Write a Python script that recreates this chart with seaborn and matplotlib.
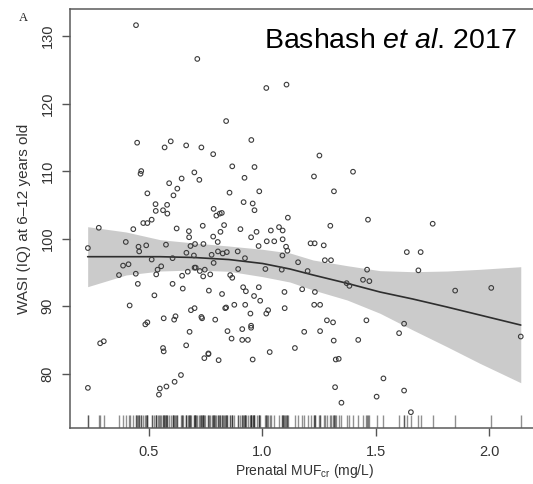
import numpy as np
import pandas as pd
import seaborn as sns
import matplotlib
matplotlib.use("Agg")
import matplotlib.pyplot as plt

# prenatal MUFcr (mg/L) and WASI IQ
muf = [0.444, 0.714, 1.018, 1.107, 0.841, 0.952, 0.449, 0.597, 0.570, 0.665,
       0.732, 0.784, 1.252, 0.868, 0.966, 1.400, 0.467, 0.464, 0.701, 0.723,
       0.922, 1.228, 0.590, 0.645, 0.626, 0.609, 0.494, 0.856, 0.987, 1.316,
       0.530, 0.581, 0.918, 0.958, 0.531, 0.563, 0.582, 0.786, 0.798, 0.813,
       0.822, 0.966, 1.113, 0.513, 0.476, 0.494, 0.432, 0.280, 0.623, 0.738,
       0.832, 0.677, 0.816, 0.904, 1.038, 1.074, 1.090, 0.975, 0.951, 0.678,
       0.784, 0.804, 1.020, 1.053, 1.090, 1.300, 1.466, 1.751, 0.399, 0.489,
       0.455, 0.458, 0.576, 0.704, 0.684, 0.741, 0.984, 1.105, 1.111, 1.231,
       1.213, 1.271, 1.637, 1.698, 0.666, 0.699, 0.777, 0.805, 0.826, 0.844,
       0.892, 0.786, 0.924, 1.089, 0.513, 0.387, 0.411, 0.555, 0.605, 1.158,
       1.276, 1.303, 0.539, 0.533, 0.702, 0.707, 0.725, 0.747, 0.740, 0.771,
       0.894, 1.014, 1.086, 1.200, 0.369, 0.443, 0.647, 0.859, 0.868, 1.688,
       1.462, 1.444, 1.472, 1.372, 1.384, 0.452, 0.605, 0.650, 0.916, 0.928,
       0.985, 1.176, 1.232, 1.098, 0.765, 1.850, 2.009, 0.525, 0.823, 0.964,
       0.991, 0.416, 0.877, 0.925, 0.841, 0.837, 0.702, 0.686, 1.099, 1.229,
       1.255, 0.948, 1.018, 1.026, 0.566, 0.618, 0.612, 0.732, 0.735, 0.793,
       0.485, 0.494, 1.285, 1.312, 1.459, 1.625, 0.951, 0.951, 0.912, 0.680,
       0.847, 1.185, 1.255, 1.603, 0.286, 0.302, 0.865, 0.912, 0.937, 1.315,
       1.423, 0.665, 1.144, 0.563, 0.566, 0.763, 0.763, 0.745, 0.808, 0.958,
       1.033, 1.324, 1.337, 0.642, 0.614, 0.578, 0.549, 0.545, 0.232, 0.232,
       1.321, 1.534, 1.625, 1.504, 1.349, 1.655, 2.139, 0.672]
iq = [131.6, 126.6, 122.3, 122.8, 117.4, 114.6, 114.2, 114.4, 113.5, 113.8,
      113.5, 112.5, 112.3, 110.7, 110.6, 109.9, 110.0, 109.6, 109.8, 108.7,
      109.0, 109.2, 108.2, 108.9, 107.4, 106.4, 106.7, 106.8, 107.0, 107.0,
      105.1, 105.0, 105.4, 105.2, 104.1, 104.2, 103.7, 104.4, 103.4, 103.7,
      103.8, 104.2, 103.1, 102.8, 102.3, 102.3, 101.4, 101.6, 101.5, 101.9,
      102.0, 101.1, 101.0, 101.4, 101.2, 101.7, 101.2, 101.0, 100.2, 100.2,
      100.3, 99.5, 99.6, 99.6, 99.9, 101.9, 102.8, 102.2, 99.5, 99.0,
      98.8, 98.1, 99.1, 99.2, 98.9, 99.2, 98.9, 98.8, 98.2, 99.3,
      99.3, 99.0, 98.0, 98.0, 97.9, 97.5, 97.6, 98.1, 97.8, 98.0,
      98.1, 96.4, 97.1, 97.5, 96.9, 96.0, 96.2, 95.9, 97.1, 96.5,
      96.8, 96.8, 95.4, 94.7, 95.7, 95.7, 95.2, 95.4, 94.4, 94.7,
      95.5, 95.5, 95.4, 95.2, 94.6, 94.8, 94.5, 94.6, 94.2, 95.3,
      95.4, 93.9, 93.7, 93.4, 93.0, 93.3, 93.3, 92.6, 92.8, 92.2,
      92.8, 92.5, 92.1, 92.1, 92.3, 92.3, 92.7, 91.6, 91.8, 91.5,
      90.8, 90.1, 90.2, 90.2, 89.8, 89.7, 89.7, 89.4, 89.7, 90.2,
      90.2, 88.9, 88.9, 89.4, 88.2, 88.5, 88.0, 88.4, 88.2, 88.0,
      87.3, 87.6, 87.9, 87.6, 87.9, 87.4, 87.1, 86.8, 86.6, 86.2,
      86.3, 86.2, 86.3, 86.0, 84.5, 84.8, 85.2, 85.0, 85.0, 84.9,
      85.0, 84.2, 83.8, 83.8, 83.3, 83.0, 82.9, 82.3, 82.0, 82.1,
      83.2, 82.1, 82.2, 79.8, 78.8, 78.1, 77.8, 76.9, 77.9, 98.6,
      78.0, 79.3, 77.5, 76.6, 75.7, 74.3, 85.5, 95.1]

# smooth fit and its confidence band
fit_x = [0.231, 0.400, 0.550, 0.700, 0.853, 1.002, 1.122, 1.224, 1.374,
         1.519, 1.664, 1.814, 1.959, 2.139]
fit_y = [97.32, 97.32, 97.32, 97.20, 96.90, 96.31, 95.50, 94.61, 93.38,
         92.09, 91.05, 89.87, 88.68, 87.20]
fit_lo = [92.88, 94.61, 95.20, 95.35, 95.16, 94.36, 93.57, 92.39, 90.91,
          88.94, 86.46, 83.99, 81.53, 78.66]
fit_hi = [101.76, 100.98, 99.84, 99.35, 98.90, 98.41, 97.87, 96.83, 95.99,
          95.25, 95.10, 95.20, 95.45, 95.84]

xticks = [0.5, 1.0, 1.5, 2.0]
yticks = [80, 90, 100, 110, 120, 130]

df = pd.DataFrame({"muf": muf, "iq": iq})
fit = pd.DataFrame({"x": fit_x, "y": fit_y, "lo": fit_lo, "hi": fit_hi})

sns.set_theme(style="white")
plt.rcParams["font.family"] = ["Liberation Sans", "DejaVu Sans"]
plt.rcParams["mathtext.fontset"] = "custom"
plt.rcParams["mathtext.rm"] = "Liberation Sans"
plt.rcParams["mathtext.it"] = "Liberation Sans:italic"

fig = plt.figure(figsize=(5.33, 4.84), dpi=100)
ax = fig.add_axes([0.1321, 0.1163, 0.8773, 0.8645])

ax.fill_between(fit["x"], fit["lo"], fit["hi"], color="#cbcbcb", lw=0, zorder=1)
sns.lineplot(data=fit, x="x", y="y", color="#2e2e2e", lw=1.2, ax=ax, zorder=2)
sns.scatterplot(data=df, x="muf", y="iq", ax=ax, s=11, facecolors="none",
                edgecolor="#3c3c3c", linewidth=0.8, zorder=3)
sns.rugplot(data=df, x="muf", height=0.03, color="#222222", lw=0.6,
            alpha=0.5, ax=ax, zorder=2)

ax.set_xlim(0.155, 2.215)
ax.set_ylim(72.0, 133.95)
ax.set_xticks(xticks)
ax.set_yticks(yticks)
ax.set_xticklabels([f"{t:.1f}" for t in xticks], fontsize=10.5, color="#333333")
ax.set_yticklabels([str(t) for t in yticks], fontsize=10.5, color="#333333",
                   rotation=90, va="center")
ax.tick_params(axis="both", direction="out", length=5.5, width=1.0,
               color="#555555", bottom=True, left=True)
ax.tick_params(axis="x", pad=7)
ax.tick_params(axis="y", pad=6)
for side in ["left", "bottom", "top", "right"]:
    ax.spines[side].set_color("#5a5a5a")
    ax.spines[side].set_linewidth(1.1)

ax.set_xlabel("Prenatal MUF$_{\\rm cr}$ (mg/L)", fontsize=10, color="#333333",
              labelpad=2)
ax.set_ylabel("WASI (IQ) at 6\u201312 years old", fontsize=11, color="#333333",
              labelpad=7)

ax.text(0.955, 0.955, "Bashash $\\it{et\\ al}$. 2017", transform=ax.transAxes,
        fontsize=20.5, ha="right", va="top", color="black")
fig.text(0.043, 0.962, "A", fontsize=9, family="Liberation Serif",
         color="#222222", ha="center", va="center")

fig.savefig("out.png", dpi=100)
